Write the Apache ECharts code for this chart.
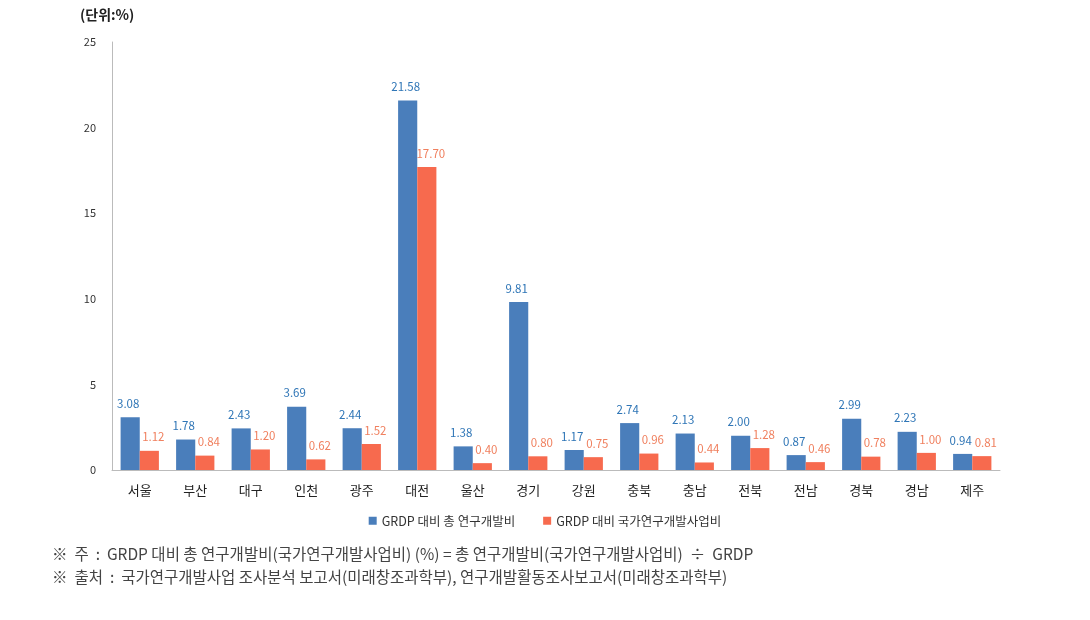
<!DOCTYPE html>
<html><head><meta charset="utf-8">
<script src="https://cdn.jsdelivr.net/npm/echarts@6/dist/echarts.min.js"></script>
<style>html,body{margin:0;padding:0;background:#fff}#c{width:1090px;height:620px}</style>
</head><body><div id="c"></div>
<script>
const categories = ['서울','부산','대구','인천','광주','대전','울산','경기','강원','충북','충남','전북','전남','경북','경남','제주'];
const totalRnd = [3.08,1.78,2.43,3.69,2.44,21.58,1.38,9.81,1.17,2.74,2.13,2.00,0.87,2.99,2.23,0.94];
const nationalRnd = [1.12,0.84,1.20,0.62,1.52,17.70,0.40,0.80,0.75,0.96,0.44,1.28,0.46,0.78,1.00,0.81];
const seriesNames = ['GRDP 대비 총 연구개발비','GRDP 대비 국가연구개발사업비'];
const unitLabel = '(단위:%)';
const notes = ['※  주  :  GRDP 대비 총 연구개발비(국가연구개발사업비) (%) = 총 연구개발비(국가연구개발사업비)  ÷  GRDP',
               '※  출처  :  국가연구개발사업 조사분석 보고서(미래창조과학부), 연구개발활동조사보고서(미래창조과학부)'];
const FONT = '"Noto Sans CJK KR","Noto Sans",sans-serif';
const chart = echarts.init(document.getElementById('c'));
chart.setOption({
  animation:false,
  textStyle:{fontFamily:FONT},
  graphic:[
    {type:'text',left:80,top:8,style:{text:unitLabel,font:'bold 14px '+FONT,fill:'#222'}},
    {type:'text',left:52,top:546,style:{text:notes[0],font:'15.5px '+FONT,fill:'#444'}},
    {type:'text',left:52,top:569,style:{text:notes[1],font:'15.5px '+FONT,fill:'#444'}}
  ],
  legend:{bottom:88,left:'center',itemWidth:8,itemHeight:8,itemGap:28,icon:'rect',
    textStyle:{fontSize:12.5,color:'#333',fontFamily:FONT},data:seriesNames},
  grid:{left:112,right:90,top:42,bottom:150,containLabel:false},
  xAxis:{type:'category',data:categories,
    axisLine:{lineStyle:{color:'#bbb'}},axisTick:{show:false},
    axisLabel:{fontSize:13,color:'#222',margin:14,fontFamily:FONT}},
  yAxis:{type:'value',min:0,max:25,interval:5,
    axisLine:{show:true,lineStyle:{color:'#bbb'}},axisTick:{show:false},splitLine:{show:false},
    axisLabel:{fontSize:11,color:'#333',margin:16}},
  series:[
    {name:seriesNames[0],type:'bar',data:totalRnd,barGap:'0%',barCategoryGap:'31%',
     itemStyle:{color:'#4A7EBB'},
     label:{show:true,position:'top',distance:8,offset:[-2,0],fontSize:11.5,color:'#2E75B6',formatter:p=>p.value.toFixed(2)}},
    {name:seriesNames[1],type:'bar',data:nationalRnd,
     itemStyle:{color:'#F76A4E'},
     label:{show:true,position:'top',distance:8,offset:[4,0],fontSize:11.5,color:'#F0805F',formatter:p=>p.value.toFixed(2)}}
  ]
});
</script></body></html>
